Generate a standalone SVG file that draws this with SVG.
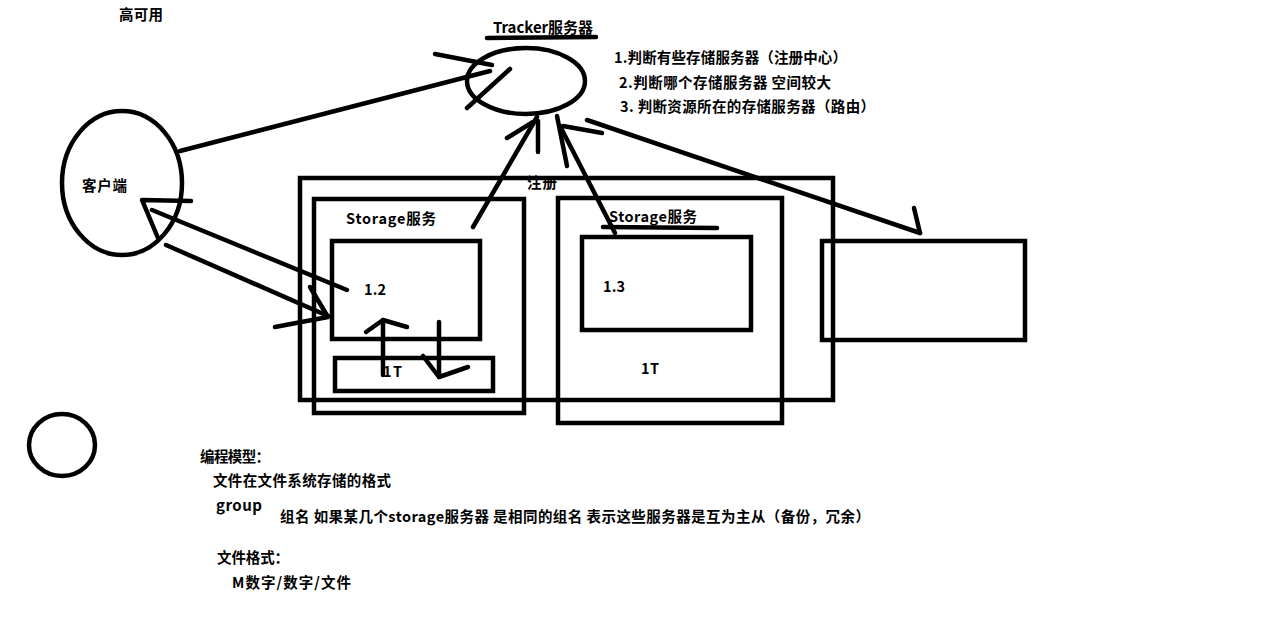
<svg xmlns="http://www.w3.org/2000/svg" width="1261" height="639" viewBox="0 0 1261 639">
<style>
.s{fill:none;stroke:#000;stroke-width:4.5;stroke-linecap:round;stroke-linejoin:round}
.b{fill:none;stroke:#000;stroke-width:4.5}
.t{font-family:"Noto Sans CJK SC","Noto Sans",sans-serif;font-weight:bold;font-size:14.5px;fill:#000}
</style>
<rect width="1261" height="639" fill="#fff"/>
<g id="title"><text class="t" x="119" y="20" textLength="44">高可用</text></g>
<g id="tracker">
<ellipse class="b" cx="526" cy="81" rx="59" ry="33"/>
<text class="t" x="493" y="33" textLength="100" style="font-size:15px">Tracker服务器</text>
<path class="s" d="M487 38 L596 37"/>
<text class="t" x="614" y="63" textLength="233">1.判断有些存储服务器（注册中心）</text>
<text class="t" x="619" y="88" textLength="212">2.判断哪个存储服务器 空间较大</text>
<text class="t" x="620" y="112" textLength="255">3. 判断资源所在的存储服务器（路由）</text>
</g>
<g id="client">
<ellipse class="b" cx="122" cy="183" rx="60" ry="72"/>
<text class="t" x="82" y="191" textLength="45">客户端</text>
</g>
<g id="small-circle"><ellipse class="b" cx="62" cy="445" rx="33" ry="31"/></g>
<g id="register">
<text class="t" x="527" y="188" textLength="30">注册</text>
<rect class="b" x="300" y="178" width="533" height="222"/>
</g>
<g id="storage1">
<rect class="b" x="314" y="199" width="210" height="214"/>
<text class="t" x="346" y="224" textLength="90">Storage服务</text>
</g>
<g id="storage1-mem">
<rect class="b" x="332" y="241" width="148" height="98"/>
<text class="t" x="364" y="295" textLength="22">1.2</text>
</g>
<g id="storage1-disk">
<rect class="b" x="335" y="358" width="158" height="33"/>
<text class="t" x="383" y="377" textLength="19">1T</text>
</g>
<g id="storage2">
<rect class="b" x="558" y="198" width="224" height="225"/>
<text class="t" x="609" y="222" textLength="88">Storage服务</text>
<path class="s" d="M603 227 L717 228"/>
<text class="t" x="641" y="374" textLength="18">1T</text>
</g>
<g id="storage2-mem">
<rect class="b" x="582" y="237" width="169" height="93"/>
<text class="t" x="603" y="292" textLength="22">1.3</text>
</g>
<g id="storage3"><rect class="b" x="822" y="241" width="203" height="99"/></g>
<g id="connectors">
<path class="s" d="M180 151 L490 71"/>
<path class="s" d="M435 54 L492 65"/>
<path class="s" d="M467 108 L510 69"/>
<path class="s" d="M473 227 L537 117"/>
<path class="s" d="M507 138 L533 122"/>
<path class="s" d="M538 152 L538 121"/>
<path class="s" d="M615 233 L560 126"/>
<path class="s" d="M557 116 L567 166"/>
<path class="s" d="M563 126 L602 133"/>
<path class="s" d="M587 120 L920 233"/>
<path class="s" d="M914 208 L920 233"/>
<path class="s" d="M347 290 L152 210"/>
<path class="s" d="M191 201 L142 200 L158 238"/>
<path class="s" d="M166 245 L328 316"/>
<path class="s" d="M310 287 L328 317 L275 327"/>
<path class="s" d="M383 375 L383 320"/>
<path class="s" d="M366 332 L383 320 L407 327"/>
<path class="s" d="M439 322 L439 377"/>
<path class="s" d="M423 356 L439 377 L468 367"/>
</g>
<g id="notes">
<text class="t" x="200" y="462" textLength="70">编程模型：</text>
<text class="t" x="213" y="486" textLength="178">文件在文件系统存储的格式</text>
<text class="t" x="216" y="511" textLength="46" style="font-size:15px">group</text>
<text class="t" x="280" y="522" textLength="590">组名 如果某几个storage服务器 是相同的组名 表示这些服务器是互为主从（备份，冗余）</text>
<text class="t" x="217" y="563" textLength="72">文件格式：</text>
<text class="t" x="232" y="588" textLength="119">M数字/数字/文件</text>
</g>
</svg>
